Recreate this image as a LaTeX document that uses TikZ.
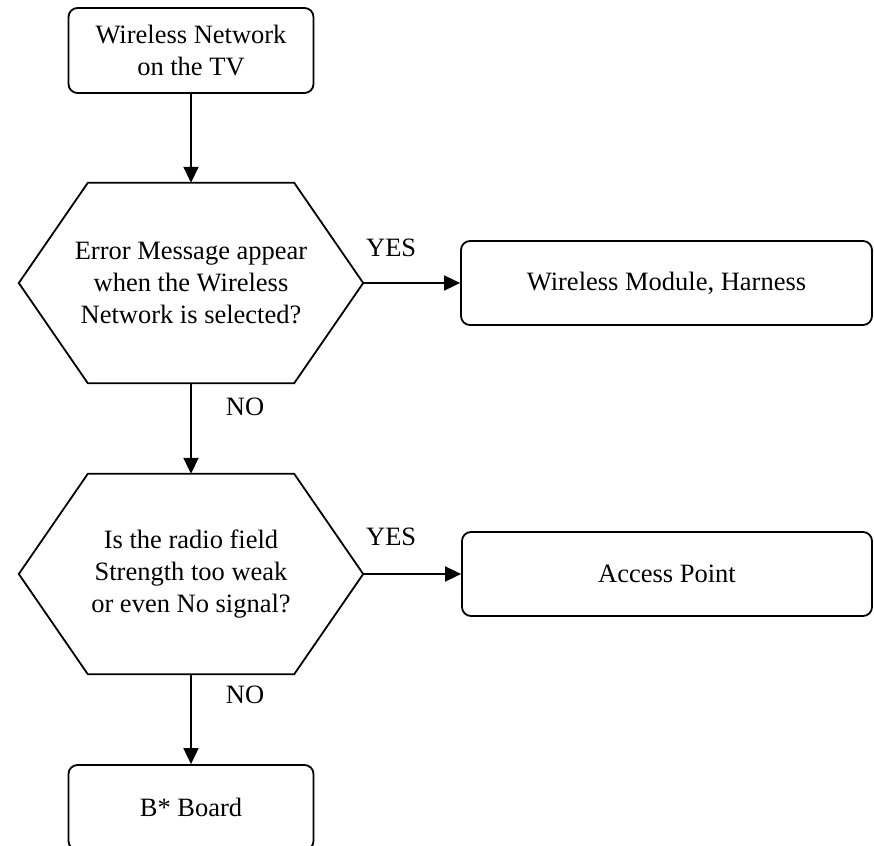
\documentclass[tikz,border=0pt]{standalone}
\usepackage{fontspec}
\setmainfont{Liberation Serif}
\usetikzlibrary{arrows.meta,calc,positioning}
\tikzset{stepbox/.style={draw,rounded corners=9pt,line width=1.8pt,inner sep=0pt,align=center,font=\fontsize{26.5}{32}\selectfont},
 askbox/.style={inner sep=0pt,minimum width=344pt,minimum height=200pt,align=center,font=\fontsize{26.5}{32}\selectfont},
 hexline/.style={draw,line width=1.8pt,line join=miter},
 flow/.style={line width=1.8pt,-{Triangle[length=16pt,width=15pt]}},
 tag/.style={font=\fontsize{26.5}{32}\selectfont,inner sep=0pt}}
\begin{document}
\begin{tikzpicture}[x=1pt,y=-1pt]
\useasboundingbox (0,0) rectangle (874,845);
\node[stepbox,minimum width=245pt,minimum height=85pt] (tv) at (191,50.5) {Wireless Network\\on the TV};
\node[askbox] (err) at (191,283) {Error Message appear\\when the Wireless\\Network is selected?};
\node[askbox] (sig) at (191,574) {Is the radio field\\Strength too weak\\or even No signal?};
\node[stepbox,minimum width=411pt,minimum height=84pt] (mod) at (666.5,283) {Wireless Module, Harness};
\node[stepbox,minimum width=410pt,minimum height=84pt] (ap) at (667,574) {Access Point};
\node[stepbox,minimum width=245pt,minimum height=85pt] (brd) at (191,807.5) {B* Board};
% hexagons
\foreach \h in {err,sig}
 \draw[hexline] (\h.west) -- ($(\h.north west)+(69,0)$) -- ($(\h.north east)+(-69,0)$) -- (\h.east)
  -- ($(\h.south east)+(-69,0)$) -- ($(\h.south west)+(69,0)$) -- cycle;
\draw[flow] (tv) -- (err.north);
\draw[flow] (err.east) -- (mod.west);
\draw[flow] (err.south) -- (sig.north);
\draw[flow] (sig.east) -- (ap.west);
\draw[flow] (sig.south) -- (brd.north);
\node[tag] (yes1) at ($(err.east)+(28,-35)$) {YES};
\node[tag] (yes2) at ($(sig.east)+(28,-37)$) {YES};
\node[tag] (no1) at ($(err.south)+(54,24)$) {NO};
\node[tag] (no2) at ($(sig.south)+(54,21)$) {NO};
\end{tikzpicture}
\end{document}
